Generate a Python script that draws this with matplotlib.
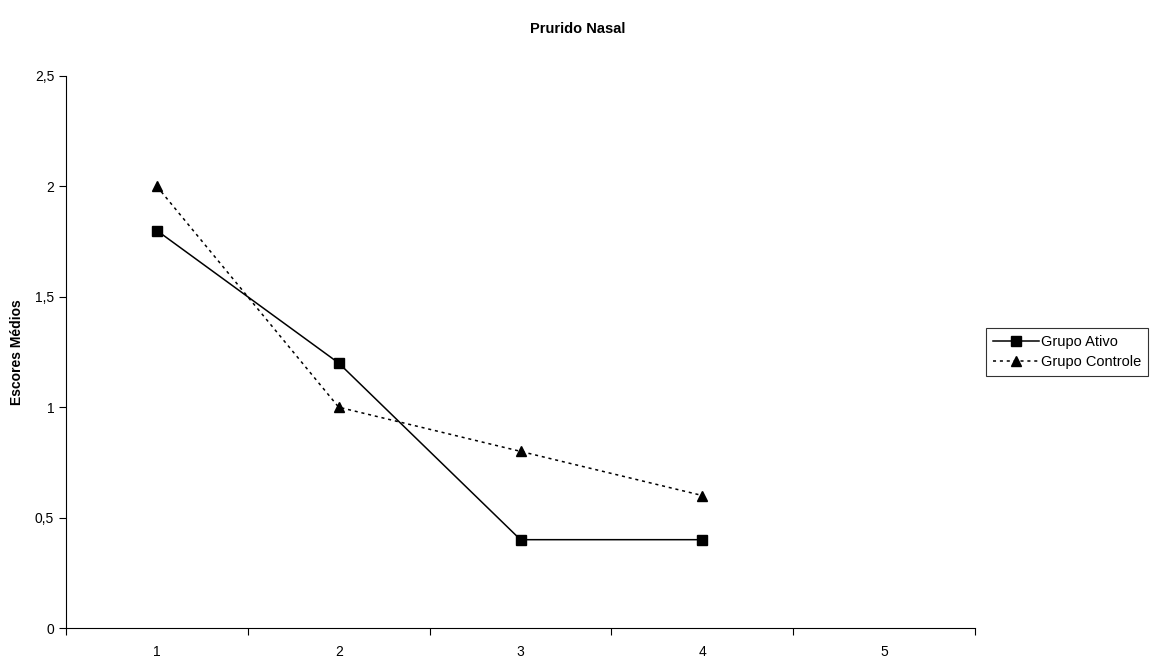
import matplotlib.pyplot as plt
from matplotlib.ticker import FixedLocator, NullFormatter

plt.rcParams['font.family'] = ['Liberation Sans', 'DejaVu Sans']

# data
categorias = [1, 2, 3, 4]
rotulos_x = ['1', '2', '3', '4', '5']
grupo_ativo = [1.8, 1.2, 0.4, 0.4]
grupo_controle = [2.0, 1.0, 0.8, 0.6]
ticks_y = [0, 0.5, 1, 1.5, 2, 2.5]
rotulos_y = ['0', '0,5', '1', '1,5', '2', '2,5']

fig = plt.figure(figsize=(11.55, 6.61), dpi=100)
ax = fig.add_axes([66 / 1155, 1 - 628 / 661, (975 - 66) / 1155, (628 - 76) / 661])

ax.plot(categorias, grupo_ativo, color='black', lw=1.1, marker='s', ms=6.5,
        label='Grupo Ativo')
ax.plot(categorias, grupo_controle, color='black', lw=1.1, ls=(0, (2, 2.5)),
        marker='^', ms=6.5, label='Grupo Controle')

ax.set_xlim(0.5, 5.5)
ax.set_ylim(0, 2.5)

# category labels at centers, tick marks at boundaries
ax.xaxis.set_major_locator(FixedLocator([0.5, 1.5, 2.5, 3.5, 4.5, 5.5]))
ax.xaxis.set_major_formatter(NullFormatter())
ax.xaxis.set_minor_locator(FixedLocator([1, 2, 3, 4, 5]))
ax.set_xticklabels(rotulos_x, minor=True)
ax.tick_params(axis='x', which='minor', length=0, pad=12, labelsize=10)
ax.tick_params(axis='x', which='major', length=5, direction='out', width=0.8)

ax.set_yticks(ticks_y)
ax.set_yticklabels(rotulos_y)
ax.tick_params(axis='y', length=5, direction='out', width=0.8, labelsize=10)

for s in ['top', 'right']:
    ax.spines[s].set_visible(False)
for s in ['left', 'bottom']:
    ax.spines[s].set_linewidth(0.8)

fig.text(17 / 1155, 1 - 352 / 661, 'Escores Médios', rotation=90, ha='center',
         va='center', fontsize=10, fontweight='bold')
fig.text(0.5, 1 - 29 / 661, 'Prurido Nasal', ha='center', va='center',
         fontsize=10.5, fontweight='bold')

leg = fig.legend(loc='center left', bbox_to_anchor=(986 / 1155, 1 - 352 / 661),
                 fontsize=10.5, frameon=True, fancybox=False, edgecolor='black',
                 borderpad=0.45, handlelength=3.2, handletextpad=0.15,
                 labelspacing=0.45, borderaxespad=0)
leg.get_frame().set_linewidth(0.8)

fig.savefig('out.png', dpi=100)
